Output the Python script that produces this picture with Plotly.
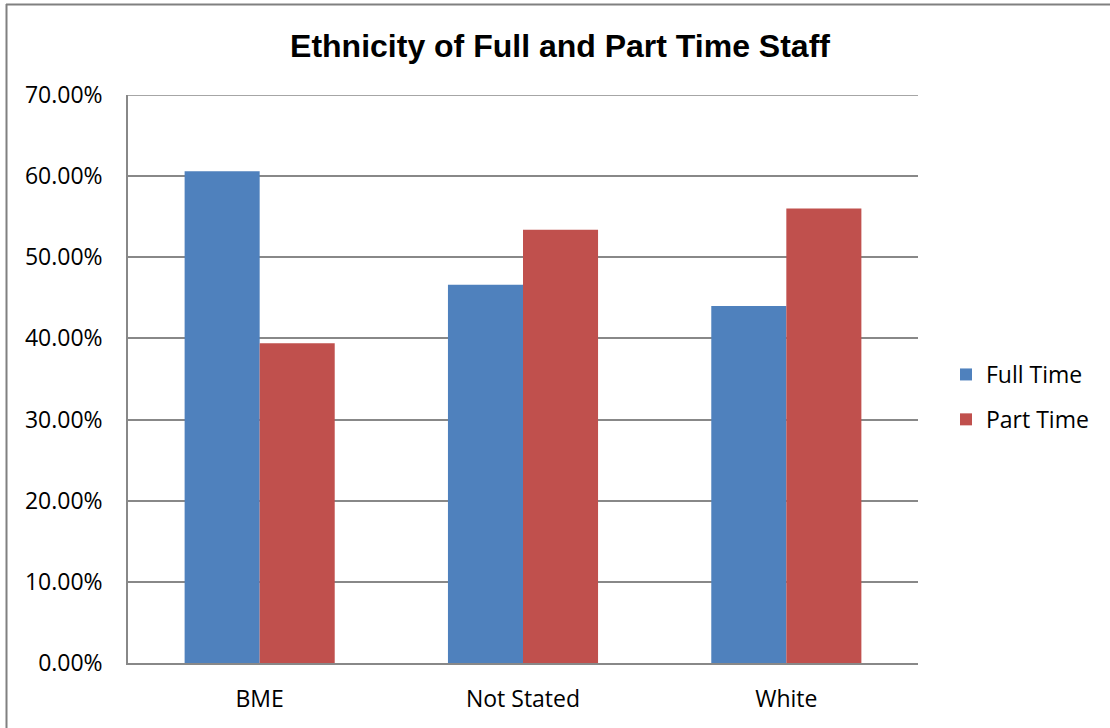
import plotly.graph_objects as go

categories = ["BME", "Not Stated", "White"]
full_time = [0.606, 0.466, 0.440]
part_time = [0.394, 0.534, 0.560]
y_ticks = [0, 0.1, 0.2, 0.3, 0.4, 0.5, 0.6, 0.7]
y_tick_labels = ["0.00%", "10.00%", "20.00%", "30.00%", "40.00%", "50.00%", "60.00%", "70.00%"]

W, H = 1110, 728
L, R, T, B = 128, 192, 95, 65
pw, ph = W - L - R, H - T - B

def px(x):
    return (x - L) / pw

def py(y):
    return (H - B - y) / ph

fig = go.Figure()
fig.add_trace(go.Bar(x=categories, y=full_time, name="Full Time", marker_color="#4F81BD",
                     marker_line_width=0, legendgroup="a"))
fig.add_trace(go.Bar(x=categories, y=part_time, name="Part Time", marker_color="#C0504D",
                     marker_line_width=0, legendgroup="b"))

tick_font = dict(family="Open Sans, Noto Sans, sans-serif", size=23, color="#000000")

fig.update_layout(
    width=W, height=H,
    margin=dict(l=L, r=R, t=T, b=B),
    paper_bgcolor="white", plot_bgcolor="white",
    barmode="group", bargap=0.43, bargroupgap=0,
    title=dict(text="<b>Ethnicity of Full and Part Time Staff</b>",
               font=dict(family="Liberation Sans, Arial, sans-serif", size=32, color="#000000"),
               x=(560) / W, xanchor="center", y=1 - 46 / H, yanchor="middle"),
    legend=dict(x=px(946), xanchor="left", y=py(397), yanchor="middle",
                font=tick_font, tracegroupgap=12, itemwidth=30,
                bgcolor="rgba(0,0,0,0)"),
    xaxis=dict(showline=True, linecolor="#888888", linewidth=1.5, showgrid=False,
               tickfont=tick_font, ticks="outside", ticklen=15, tickcolor="rgba(0,0,0,0)"),
    yaxis=dict(range=[0, 0.7], tickvals=y_ticks, ticktext=y_tick_labels,
               showgrid=True, gridcolor="#888888", gridwidth=1.5,
               showline=True, linecolor="#888888", linewidth=1.5,
               tickfont=tick_font, ticks="outside", ticklen=19, tickcolor="rgba(0,0,0,0)",
               zeroline=False),
    shapes=[
        dict(type="line", xref="paper", yref="paper", x0=px(6), x1=px(1115), y0=py(4.5), y1=py(4.5),
             line=dict(color="#808080", width=2)),
        dict(type="line", xref="paper", yref="paper", x0=px(6.5), x1=px(6.5), y0=py(4), y1=py(735),
             line=dict(color="#808080", width=2)),
        dict(type="line", xref="paper", yref="y", x0=0, x1=1, y0=0.7, y1=0.7,
             line=dict(color="#888888", width=1.5)),
    ],
)

fig.write_html("out.html")
